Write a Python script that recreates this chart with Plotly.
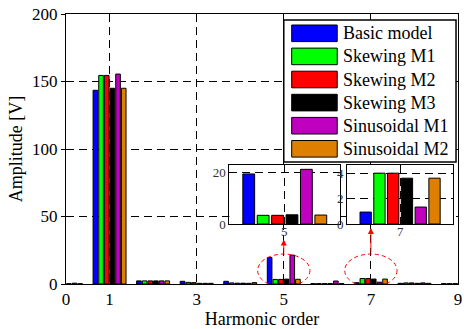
import plotly.graph_objects as go

harmonics = [0, 1, 2, 3, 4, 5, 6, 7, 8, 9]
series_names = ["Basic model", "Skewing M1", "Skewing M2", "Skewing M3", "Sinusoidal M1", "Sinusoidal M2"]
basic_model = [0.3, 143.5, 2.3, 2.0, 2.0, 19.6, 0.3, 0.95, 0.5, 0.3]
skewing_m1 = [0.2, 154.5, 2.3, 1.2, 0.8, 3.4, 0.3, 4.05, 0.8, 0.3]
skewing_m2 = [0.2, 154.5, 2.3, 1.0, 0.6, 3.4, 0.3, 4.05, 0.8, 0.3]
skewing_m3 = [0.2, 145.0, 2.3, 0.5, 0.6, 3.6, 0.3, 3.65, 0.5, 0.3]
sinusoidal_m1 = [0.6, 155.5, 2.3, 0.5, 0.5, 21.4, 2.2, 1.35, 0.8, 0.3]
sinusoidal_m2 = [0.2, 145.0, 2.3, 0.5, 1.0, 3.5, 0.3, 3.65, 0.5, 0.3]
series_values = [basic_model, skewing_m1, skewing_m2, skewing_m3, sinusoidal_m1, sinusoidal_m2]
colors = ["#0000FF", "#00FF00", "#FF0000", "#000000", "#BF00BF", "#DF7F00"]

x_ticks = [0, 1, 3, 5, 7, 9]
y_ticks = [0, 50, 100, 150, 200]
inset1_yticks = [0, 20]
inset2_yticks = [0, 2, 4]
inset_harmonics = [5, 7]

FONT = "Liberation Serif"
DASH = "8px,5px"

fig = go.Figure()
for axes in [("x", "y"), ("x2", "y2"), ("x3", "y3")]:
    for name, vals, col in zip(series_names, series_values, colors):
        fig.add_trace(go.Bar(
            x=harmonics, y=vals, name=name, xaxis=axes[0], yaxis=axes[1],
            marker=dict(color=col, line=dict(color="black", width=1)),
            showlegend=False, hoverinfo="skip"))

# plot area geometry (paper)
L, R, T, B = 66, 2, 14, 45
W, H = 464, 329
pw, ph = W - L - R, H - T - B
def px(x):
    return (x - L) / pw
def py(y):
    return (H - B - y) / ph

axis_common = dict(showline=True, linecolor="black", linewidth=1, mirror=True,
                   zeroline=False, gridcolor="black", gridwidth=1, griddash=DASH,
                   tickfont=dict(family=FONT, size=17, color="black"))
inset_common = dict(ticks="", showline=True, linecolor="black", mirror=True, zeroline=False,
                    gridcolor="black", griddash=DASH,
                    tickfont=dict(family=FONT, size=13, color="#333333"))

fig.update_layout(
    width=W, height=H,
    margin=dict(l=L, r=R, t=T, b=B),
    paper_bgcolor="white", plot_bgcolor="white",
    barmode="group", bargap=0.22, bargroupgap=0.18,
    font=dict(family=FONT, color="black"),
    xaxis=dict(domain=[0, 1], range=[0, 9], tickvals=x_ticks, ticks="", showgrid=True,
               ticklabeloverflow="allow",
               title=dict(text="Harmonic order", font=dict(family=FONT, size=18), standoff=2),
               **axis_common),
    yaxis=dict(domain=[0, 1], range=[0, 200], tickvals=y_ticks, ticks="outside", ticklen=4,
               tickcolor="black", showgrid=True,
               title=dict(text="Amplitude [V]", font=dict(family=FONT, size=18), standoff=4),
               **axis_common),
    xaxis2=dict(domain=[px(231), px(343)], range=[4.5, 5.5], tickvals=[inset_harmonics[0]],
                anchor="y2", showticklabels=False, **inset_common),
    yaxis2=dict(domain=[py(224), py(165)], range=[0, 23.1], tickvals=inset1_yticks, anchor="x2",
                **inset_common),
    xaxis3=dict(domain=[px(350), px(457)], range=[6.5, 7.5], tickvals=[inset_harmonics[1]],
                anchor="y3", showticklabels=False, **inset_common),
    yaxis3=dict(domain=[py(224), py(165)], range=[0, 4.7], tickvals=inset2_yticks, anchor="x3",
                **inset_common),
)

# inset x tick labels
for h, xr in zip(inset_harmonics, ["x2", "x3"]):
    fig.add_annotation(x=h, xref=xr, y=py(224), yref="paper", text=str(h), showarrow=False,
                       yanchor="top", yshift=2,
                       font=dict(family=FONT, size=13, color="#333333"))

# red dashed ellipses around 5th and 7th harmonics
for h in inset_harmonics:
    fig.add_shape(type="circle", xref="x", yref="y", x0=h - 0.6, x1=h + 0.6, y0=-2.2, y1=22.2,
                  line=dict(color="red", width=1, dash="4px,3px"))
# arrows to insets
for h, tip in zip(inset_harmonics, [33.0, 41.5]):
    fig.add_annotation(x=h, y=tip, ax=h, ay=22.2, xref="x", yref="y", axref="x", ayref="y",
                       text="", showarrow=True, arrowhead=2, arrowsize=1.2, arrowwidth=1,
                       arrowcolor="red")

# legend (drawn manually)
fig.add_shape(type="rect", xref="paper", yref="paper", x0=px(286), x1=px(460),
              y0=py(162), y1=py(20), fillcolor="white", line=dict(color="black", width=1.5),
              layer="above")
row0, step = 33.3, 23.1
for i, (name, col) in enumerate(zip(series_names, colors)):
    yc = row0 + i * step
    fig.add_shape(type="rect", xref="paper", yref="paper", x0=px(294), x1=px(340),
                  y0=py(yc + 8.3), y1=py(yc - 8.3), fillcolor=col,
                  line=dict(color="black", width=1), layer="above")
    fig.add_annotation(x=px(344), y=py(yc), xref="paper", yref="paper", text=name,
                       showarrow=False, xanchor="left", yanchor="middle",
                       font=dict(family=FONT, size=18, color="black"))

fig.write_html("out.html")
